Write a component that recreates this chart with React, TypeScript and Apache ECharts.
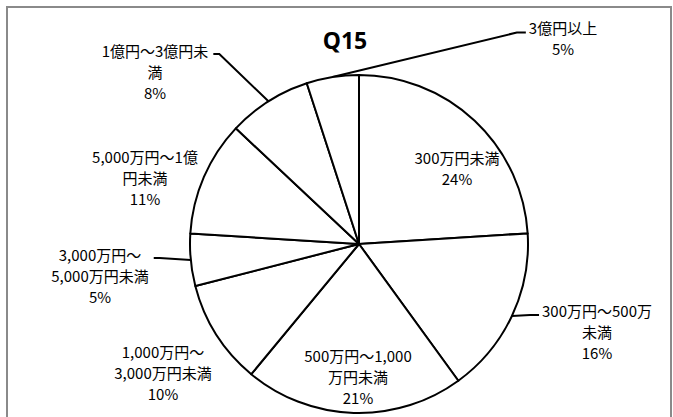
import React, { useEffect, useRef } from "react";
import * as echarts from "echarts";

// ---- data ----
const categories = [
  "300万円未満",
  "300万円～500万未満",
  "500万円～1,000万円未満",
  "1,000万円～3,000万円未満",
  "3,000万円～5,000万円未満",
  "5,000万円～1億円未満",
  "1億円～3億円未満",
  "3億円以上",
];
const values = [24, 16, 21, 10, 5, 11, 8, 5];
const titleText = "Q15";

// ---- layout (not data) ----
// character index at which each category label wraps (0 = no wrap)
const labelBreaks = [0, 10, 11, 8, 8, 10, 8, 0];
// label mode: inside slice, outside with leader line, outside without line
const labelModes = ["inside", "line", "inside", "plain", "line", "plain", "line", "line"];
// label block centers (px)
const labelCenters: [number, number][] = [
  [457, 168],
  [597, 331],
  [358, 376],
  [163, 372],
  [100, 275],
  [145, 177],
  [155, 71],
  [563, 38],
];
const LINE_H = 21;

export default function App() {
  const ref = useRef<HTMLDivElement>(null);
  useEffect(() => {
    if (!ref.current) return;
    const chart = echarts.init(ref.current, null, { renderer: "svg" });
    const cx = 359;
    const cy = 244;
    const R = 169;
    const total = values.reduce((a, b) => a + b, 0);

    const data = categories.map((name, i) => {
      const mode = labelModes[i];
      return {
        name,
        value: values[i],
        label: { position: mode === "inside" ? "inside" : "outside" },
        labelLine: { show: mode === "line" },
      };
    });

    const edgePoint = (i: number): [number, number] => {
      let cum = 0;
      for (let k = 0; k < i; k++) cum += values[k];
      const mid = ((cum + values[i] / 2) / total) * Math.PI * 2;
      return [cx + R * Math.sin(mid), cy - R * Math.cos(mid)];
    };

    chart.setOption({
      animation: false,
      backgroundColor: "#ffffff",
      title: {
        text: titleText,
        left: 340,
        top: 23,
        textAlign: "center",
        textStyle: {
          fontFamily: "'Noto Sans', sans-serif",
          fontSize: 23,
          fontWeight: "bold",
          color: "#000",
        },
      },
      graphic: [
        {
          type: "rect",
          shape: { x: 7, y: 7, width: 664, height: 420 },
          style: { fill: "none", stroke: "#8a8a8a", lineWidth: 2 },
          silent: true,
        },
      ],
      series: [
        {
          type: "pie",
          center: [cx, cy],
          radius: R,
          startAngle: 90,
          clockwise: true,
          avoidLabelOverlap: false,
          itemStyle: { color: "#ffffff", borderColor: "#000000", borderWidth: 2 },
          emphasis: { disabled: true },
          label: {
            show: true,
            color: "#000",
            fontFamily: "'Noto Sans CJK JP', sans-serif",
            fontSize: 15,
            lineHeight: LINE_H,
            align: "center",
            formatter: (p: any) => {
              const b = labelBreaks[p.dataIndex];
              const name: string = p.name;
              const txt = b > 0 && b < name.length ? name.slice(0, b) + "\n" + name.slice(b) : name;
              return txt + "\n" + Math.round(p.percent) + "%";
            },
          },
          labelLine: {
            show: true,
            length: 10,
            length2: 10,
            lineStyle: { color: "#000", width: 2 },
          },
          labelLayout: (params: any) => {
            const i = params.dataIndex;
            const [x, y] = labelCenters[i];
            const out: any = { x, y, align: "center", verticalAlign: "middle" };
            if (labelModes[i] === "line") {
              const w = params.labelRect.width;
              const h = params.labelRect.height;
              const firstY = y - h / 2 + LINE_H / 2;
              const start =
                params.labelLinePoints && params.labelLinePoints[0]
                  ? params.labelLinePoints[0]
                  : edgePoint(i);
              const rightSide = x > cx;
              let end: [number, number];
              let elbow: [number, number];
              if (rightSide) {
                end = [x - w / 2 - 3, firstY + 5];
                elbow = [end[0] - 9, end[1]];
              } else {
                end = [x + w / 2 + 5, firstY + 4];
                elbow = [end[0] + 6, end[1]];
              }
              out.labelLinePoints = [start, elbow, end];
            }
            return out;
          },
          data,
        },
      ],
    });
    return () => chart.dispose();
  }, []);
  return (
    <div
      ref={ref}
      style={{ position: "absolute", left: 0, top: 0, width: 673, height: 417 }}
    />
  );
}
